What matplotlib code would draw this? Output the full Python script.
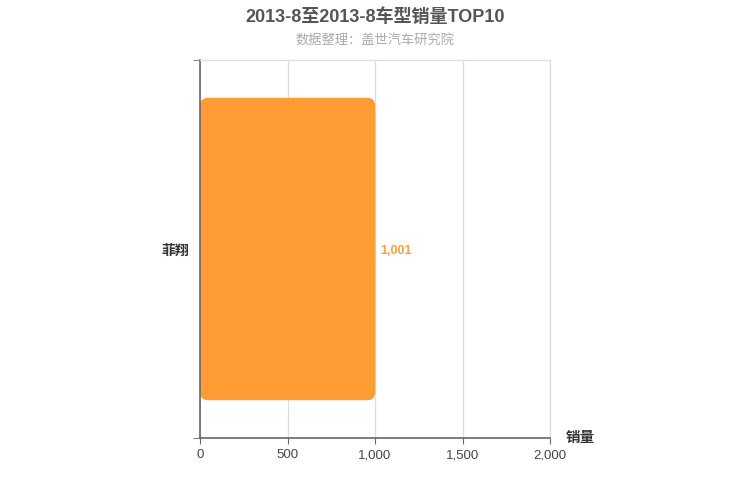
import matplotlib
matplotlib.use('Agg')
import matplotlib.pyplot as plt
from matplotlib.patches import FancyBboxPatch

plt.rcParams['font.family'] = ['Liberation Sans', 'Noto Sans CJK SC', 'DejaVu Sans']

# data
models = ['菲翔']
sales = [1001]
xticks = [0, 500, 1000, 1500, 2000]
title = '2013-8至2013-8车型销量TOP10'
subtitle = '数据整理：盖世汽车研究院'

bar_color = '#ff9c34'

fig = plt.figure(figsize=(7.5, 5), dpi=100)
ax = fig.add_axes([200/750, 62/500, 350/750, 378/500])

bars = ax.barh(range(len(models)), sales, height=0.8, color=bar_color)
ax.set_xlim(0, 2000)
ax.set_ylim(-0.5, len(models) - 0.5)
ax.invert_yaxis()

# swap plain bars for rounded ones
xpp = 2000 / 350.0
ypp = len(models) / 378.0
for b in bars:
    x0, y0, w, h = b.get_x(), b.get_y(), b.get_width(), b.get_height()
    b.remove()
    p = FancyBboxPatch((x0, y0), w, h,
                       boxstyle='round,pad=0,rounding_size=%f' % (8 * xpp),
                       mutation_aspect=ypp / xpp,
                       fc=bar_color, ec='none', zorder=2)
    ax.add_patch(p)

for i, v in enumerate(sales):
    ax.text(v + 5 * xpp, i, format(v, ','), va='center_baseline', ha='left',
            color='#f5a04a', fontsize=9, fontweight='bold')

ax.set_xticks(xticks)
ax.set_xticklabels([format(t, ',') for t in xticks], color='#444', fontsize=9.5)
ax.xaxis.grid(True, color='#dddddd', lw=0.9, zorder=0)
ax.set_axisbelow(True)

ax.set_yticks(range(len(models)))
ax.set_yticklabels(models, fontsize=10, fontweight='bold', color='#333',
                   va='center_baseline')
ax.tick_params(axis='y', length=0, pad=8)
ax.set_yticks([i - 0.5 for i in range(len(models) + 1)], minor=True)
ax.tick_params(axis='y', which='minor', length=5, color='#666')
ax.tick_params(axis='x', length=4, color='#666', pad=4)

for s in ['left', 'bottom']:
    ax.spines[s].set_color('#666')
    ax.spines[s].set_linewidth(1.2)
for s in ['top', 'right']:
    ax.spines[s].set_color('#dddddd')
    ax.spines[s].set_linewidth(0.9)

fig.text(580/750, 1 - 438/500, '销量', ha='center', va='center',
         fontsize=10.5, fontweight='bold', color='#333')
fig.text(0.5, 1 - 17/500, title, ha='center', va='center',
         fontsize=13, fontweight='bold', color='#555')
fig.text(0.5, 1 - 41/500, subtitle, ha='center', va='center',
         fontsize=9.5, color='#aaaaaa')

plt.savefig('out.png', dpi=100)
